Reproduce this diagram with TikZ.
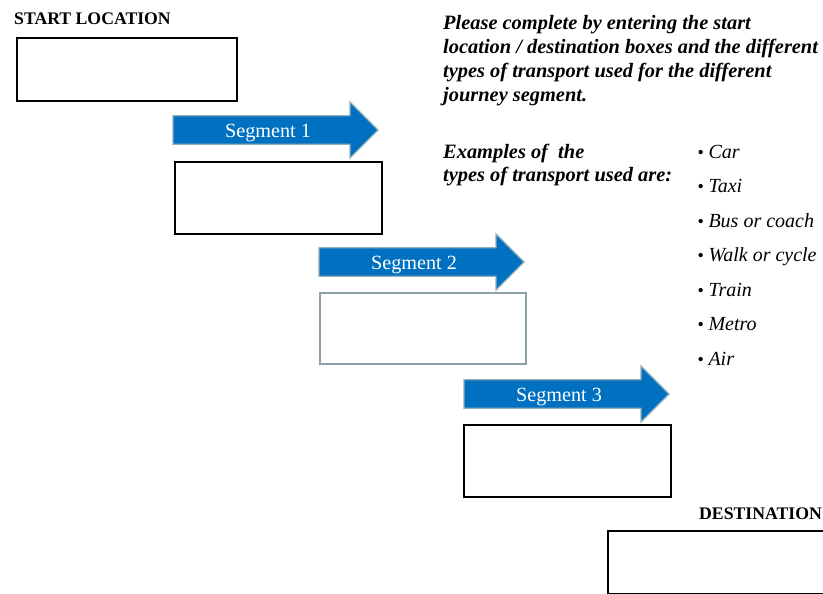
\documentclass[tikz,border=0pt]{standalone}
\usepackage{fontspec}
\setmainfont{Liberation Serif}
\definecolor{arrowblue}{HTML}{0070C0}
\definecolor{arrowedge}{HTML}{93AEB8}
\definecolor{softedge}{HTML}{8AA2A6}
\newcommand{\smallbullet}{{\fontsize{18}{18}\selectfont\upshape\textbullet}\hspace{4.5pt}}
\tikzset{
  entrybox/.style={draw=black, line width=2.2pt, fill=white, inner sep=0pt, anchor=north west},
  softbox/.style={entrybox, draw=softedge, line width=2pt},
  heading/.style={inner sep=0pt, anchor=base west, font=\fontsize{17.7}{20}\selectfont\bfseries},
  note/.style={inner sep=0pt, anchor=base west, font=\fontsize{20.4}{24}\selectfont\bfseries\itshape},
  item/.style={inner sep=0pt, anchor=base west, font=\fontsize{20}{24}\selectfont\itshape},
  seglabel/.style={inner sep=0pt, anchor=base, text=white, font=\fontsize{20.2}{24}\selectfont},
  pics/segarrow/.style={code={
    \fill[arrowblue, draw=arrowedge, line width=1.2pt]
      (0,-14.3) -- (177,-14.3) -- (177,-28) -- (205,0) -- (177,28) -- (177,14.3) -- (0,14.3) -- cycle;
    \node[seglabel] at (95,7.5) {#1};
  }}
}
\begin{document}
\begin{tikzpicture}[x=1pt, y=-1pt]
\useasboundingbox (0,0) rectangle (823,594);
\clip (0,0) rectangle (823,594);

% start and destination headings
\node[heading] (starthead) at (14,25) {START LOCATION};
\node[heading] (desthead) at (699,519) {DESTINATION};

% entry boxes
\node[entrybox, minimum width=220pt, minimum height=63pt] (startbox) at (15.5,37.3) {};
\node[entrybox, minimum width=206.5pt, minimum height=72pt] (seg1box) at (174,161) {};
\node[softbox, minimum width=206pt, minimum height=70.5pt] (seg2box) at (318.5,292) {};
\node[entrybox, minimum width=206.5pt, minimum height=72pt] (seg3box) at (463,423.5) {};
\node[entrybox, minimum width=240pt, minimum height=63pt] (destbox) at (607,529.6) {};

% journey segment arrows
\pic at (173,130) {segarrow=Segment 1};
\pic at (319,262) {segarrow=Segment 2};
\pic at (464,394) {segarrow=Segment 3};

% instructions
\node[note] (n1) at (443,29.5) {Please complete by entering the start};
\node[note] (n2) at (443,53.5) {location / destination boxes and the different};
\node[note] (n3) at (443,77.5) {types of transport used for the different};
\node[note] (n4) at (443,101.5) {journey segment.};
\node[note] (e1) at (443,158) {Examples of\ \ the};
\node[note] (e2) at (443,182) {types of transport used are:};

% transport types
\foreach \txt [count=\i] in {Car, Taxi, Bus or coach, Walk or cycle, Train, Metro, Air}{
  \node[item] (t\i) at (697.5,158.3+34.45*\i-34.45) {\smallbullet\txt};
}
\end{tikzpicture}
\end{document}
